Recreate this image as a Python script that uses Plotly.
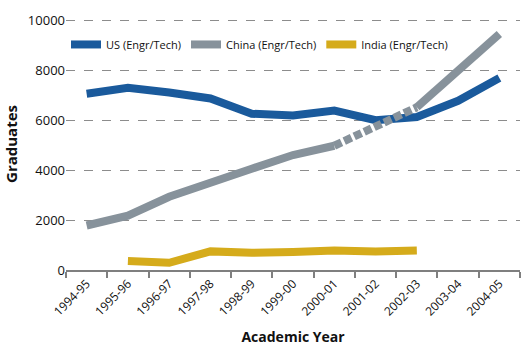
import plotly.graph_objects as go

years = ["1994-95", "1995-96", "1996-97", "1997-98", "1998-99", "1999-00",
         "2000-01", "2001-02", "2002-03", "2003-04", "2004-05"]
us = [7050, 7290, 7100, 6860, 6250, 6180, 6380, 5990, 6120, 6770, 7680]
china = [1780, 2170, 2930, 3450, 4050, 4600, 4970, 5740, 6510, 7940, 9440]
india = [None, 360, 290, 745, 690, 720, 780, 740, 780, None, None]
yticks = [0, 2000, 4000, 6000, 8000, 10000]
ytick_text = ["0", "2000", "4000", "6000", "8000", "10000"]

US_C = "#1a5a9c"
CN_C = "#87929b"
IN_C = "#d5ab1b"
W = 8

fig = go.Figure()
fig.add_trace(go.Scatter(x=years, y=us, mode="lines", name="US (Engr/Tech)",
                         line=dict(color=US_C, width=W)))
fig.add_trace(go.Scatter(x=years[:7], y=china[:7], mode="lines", name="China (Engr/Tech)",
                         legendgroup="cn", line=dict(color=CN_C, width=W)))
fig.add_trace(go.Scatter(x=years[6:9], y=china[6:9], mode="lines", showlegend=False,
                         legendgroup="cn", line=dict(color=CN_C, width=W, dash="8px,3px")))
fig.add_trace(go.Scatter(x=years[8:], y=china[8:], mode="lines", showlegend=False,
                         legendgroup="cn", line=dict(color=CN_C, width=W)))
fig.add_trace(go.Scatter(x=years, y=india, mode="lines", name="India (Engr/Tech)",
                         line=dict(color=IN_C, width=W)))

font = "Open Sans"
fig.update_layout(
    width=531, height=354,
    margin=dict(l=65, r=11, t=12, b=84),
    paper_bgcolor="white", plot_bgcolor="white",
    font=dict(family=font, color="#111111", size=12),
    showlegend=True,
    legend=dict(orientation="h", x=0.0, y=0.895, xanchor="left", yanchor="middle",
                font=dict(size=11, family=font), itemwidth=30, tracegroupgap=0,
                bgcolor="rgba(0,0,0,0)"),
    xaxis=dict(type="category", range=[-0.5, 10.5], tickson="boundaries",
               ticks="outside", ticklen=6, tickwidth=2, tickcolor="#7f7f7f",
               showline=True, linecolor="#7f7f7f", linewidth=2,
               showgrid=False, tickangle=-45, tickfont=dict(size=12),
               title=dict(text="<b>Academic Year</b>", font=dict(size=14), standoff=14)),
    yaxis=dict(range=[0, 10080], tickvals=yticks, ticktext=ytick_text,
               showgrid=True, gridcolor="#8c8c8c", griddash="dash", gridwidth=0.7,
               zeroline=False, showline=False, ticks="", tickfont=dict(size=13),
               title=dict(text="<b>Graduates</b>", font=dict(size=15), standoff=6)),
)

fig.write_html("out.html")
